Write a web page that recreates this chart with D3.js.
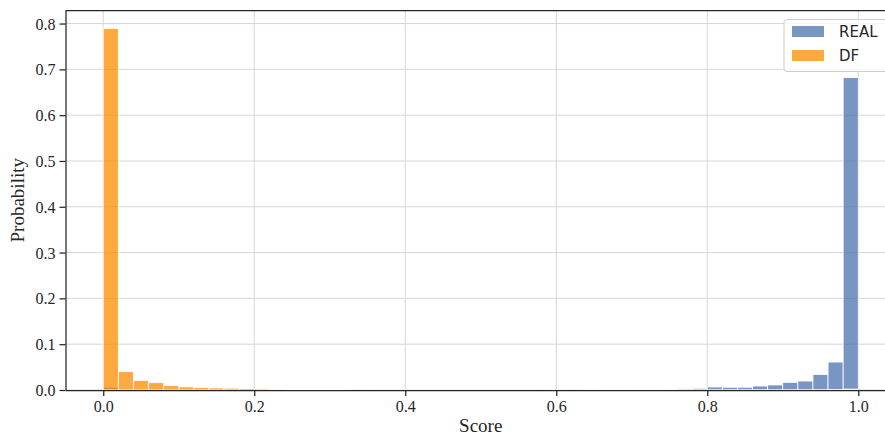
<!DOCTYPE html>
<html>
<head>
<meta charset="utf-8">
<script src="https://cdn.jsdelivr.net/npm/d3@7/dist/d3.min.js"></script>
<style>
  html, body { margin: 0; padding: 0; background: #fff; }
  svg { display: block; }
</style>
</head>
<body>
<svg id="chart" width="885" height="437"></svg>
<script>
// Histogram of detector scores: 50 bins of width 0.02 over [0, 1]
const binWidth = 0.02;
const binStarts = d3.range(50).map(i => +(i * binWidth).toFixed(2));

const realProb = [
  0.0060, 0.0015, 0.0010, 0.0008, 0.0006, 0.0005, 0.0005, 0.0004, 0.0004, 0.0004,
  0.0003, 0.0003, 0.0003, 0.0003, 0.0003, 0.0003, 0.0003, 0.0003, 0.0003, 0.0003,
  0.0003, 0.0003, 0.0003, 0.0003, 0.0003, 0.0004, 0.0004, 0.0004, 0.0005, 0.0005,
  0.0006, 0.0007, 0.0008, 0.0009, 0.0011, 0.0013, 0.0016, 0.0020, 0.0025, 0.0037,
  0.0065, 0.0060, 0.0060, 0.0087, 0.0110, 0.0167, 0.0196, 0.0340, 0.0610, 0.6820
];

const dfProb = [
  0.7890, 0.0400, 0.0210, 0.0160, 0.0095, 0.0068, 0.0052, 0.0045, 0.0040, 0.0030,
  0.0025, 0.0020, 0.0016, 0.0013, 0.0011, 0.0009, 0.0007, 0.0006, 0.0005, 0.0005,
  0.0004, 0.0004, 0.0003, 0.0003, 0.0003, 0.0003, 0.0002, 0.0002, 0.0002, 0.0002,
  0.0002, 0.0002, 0.0002, 0.0002, 0.0002, 0.0002, 0.0002, 0.0002, 0.0002, 0.0002,
  0.0002, 0.0002, 0.0002, 0.0002, 0.0002, 0.0003, 0.0003, 0.0005, 0.0008, 0.0020
];

const xTicks = [0, 0.2, 0.4, 0.6, 0.8, 1.0];
const yTicks = [0, 0.1, 0.2, 0.3, 0.4, 0.5, 0.6, 0.7, 0.8];

const seriesNames = ["REAL", "DF"];
const seriesColors = ["rgba(76,114,176,0.75)", "rgba(255,140,0,0.75)"];
const seriesValues = [realProb, dfProb];

const svg = d3.select("#chart");
const plot = { left: 65.5, top: 10.5, bottom: 390, right: 896 };

const x = d3.scaleLinear().domain([-0.05, 1.05]).range([plot.left, plot.right]);
const y = d3.scaleLinear().domain([0, 0.8285]).range([plot.bottom, plot.top]);

const serif = "'Liberation Serif', 'Times New Roman', serif";
const inkColor = "#262626";
const gridColor = "#d6d6d6";

// grid
const grid = svg.append("g");
grid.selectAll("line.gy").data(yTicks).join("line")
  .attr("x1", plot.left).attr("x2", plot.right)
  .attr("y1", d => y(d)).attr("y2", d => y(d))
  .attr("stroke", gridColor).attr("stroke-width", 1);
grid.selectAll("line.gx").data(xTicks).join("line")
  .attr("y1", plot.top).attr("y2", plot.bottom)
  .attr("x1", d => x(d)).attr("x2", d => x(d))
  .attr("stroke", gridColor).attr("stroke-width", 1);

// bars: REAL first, DF drawn over it
seriesValues.forEach((vals, si) => {
  svg.append("g").selectAll("rect")
    .data(vals.map((v, i) => ({ x0: binStarts[i], v })))
    .join("rect")
    .attr("x", d => x(d.x0))
    .attr("width", d => x(d.x0 + binWidth) - x(d.x0))
    .attr("y", d => y(d.v))
    .attr("height", d => y(0) - y(d.v))
    .attr("fill", seriesColors[si])
    .attr("stroke", "#fff")
    .attr("stroke-width", 0.8);
});

// axes
const xAxis = svg.append("g")
  .attr("transform", `translate(0,${plot.bottom})`)
  .call(d3.axisBottom(x).tickValues(xTicks).tickFormat(d3.format(".1f")).tickSize(6).tickSizeOuter(0).tickPadding(5));
const yAxis = svg.append("g")
  .attr("transform", `translate(${plot.left},0)`)
  .call(d3.axisLeft(y).tickValues(yTicks).tickFormat(d3.format(".1f")).tickSize(6).tickSizeOuter(0).tickPadding(4));

[xAxis, yAxis].forEach(g => {
  g.select(".domain").attr("stroke", inkColor).attr("stroke-width", 1.25);
  g.selectAll(".tick line").attr("stroke", inkColor).attr("stroke-width", 1.25);
  g.selectAll(".tick text")
    .attr("fill", inkColor)
    .style("font-family", serif)
    .style("font-size", "16px");
});
yAxis.selectAll(".tick text").attr("dy", "0.34em");

// top spine
svg.append("line")
  .attr("x1", plot.left).attr("x2", plot.right)
  .attr("y1", plot.top).attr("y2", plot.top)
  .attr("stroke", inkColor).attr("stroke-width", 1.25);

// axis labels
svg.append("text")
  .attr("x", (plot.left + plot.right) / 2)
  .attr("y", 432)
  .attr("text-anchor", "middle")
  .attr("fill", inkColor)
  .style("font-family", serif)
  .style("font-size", "19px")
  .text("Score");

svg.append("text")
  .attr("transform", `translate(24,${(plot.top + plot.bottom) / 2}) rotate(-90)`)
  .attr("text-anchor", "middle")
  .attr("fill", inkColor)
  .style("font-family", serif)
  .style("font-size", "19px")
  .text("Probability");

// legend
const legend = svg.append("g");
legend.append("rect")
  .attr("x", 784).attr("y", 19.5)
  .attr("width", 105).attr("height", 52)
  .attr("rx", 3)
  .attr("fill", "rgba(255,255,255,0.8)")
  .attr("stroke", "#cccccc").attr("stroke-width", 1);
seriesNames.forEach((name, i) => {
  const gy = 26 + i * 24;
  legend.append("rect")
    .attr("x", 792).attr("y", gy)
    .attr("width", 32).attr("height", 11)
    .attr("fill", seriesColors[i]);
  legend.append("text")
    .attr("x", 839).attr("y", gy + 11)
    .attr("fill", inkColor)
    .style("font-family", "'DejaVu Sans', sans-serif")
    .style("font-size", "15px")
    .text(name);
});
</script>
</body>
</html>
